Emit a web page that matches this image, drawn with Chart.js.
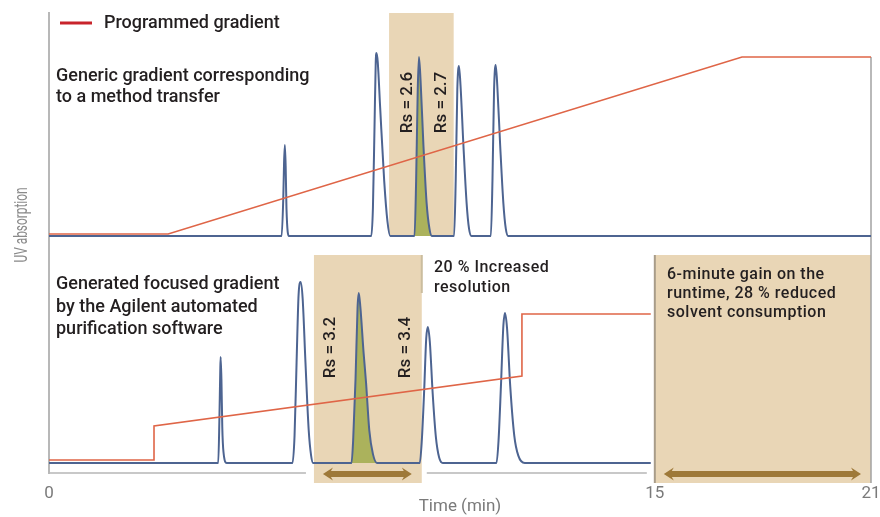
<!DOCTYPE html>
<html>
<head>
<meta charset="utf-8">
<script src="https://cdn.jsdelivr.net/npm/chart.js@4/dist/chart.umd.min.js"></script>
<style>
  html, body { margin: 0; padding: 0; background: #fff; }
</style>
</head>
<body>
<canvas id="chart" width="880" height="517"></canvas>
<script>
// ======= Data =======
const tickValues = [0, 15, 21];
const tickLabels = ['0', '15', '21'];

// Generic gradient run (top trace): time (min) / relative UV absorbance
const topTraceTime = [0,
  5.76, 5.80, 5.82, 5.84, 5.86, 5.88, 5.94,
  7.98, 8.02, 8.06, 8.09, 8.11, 8.14, 8.20, 8.30, 8.38, 8.45,
  9.05, 9.09, 9.13, 9.16, 9.20, 9.27, 9.35, 9.42, 9.48,
  10.03, 10.07, 10.11, 10.15, 10.19, 10.26, 10.34, 10.40, 10.46,
  10.94, 10.98, 11.02, 11.06, 11.10, 11.17, 11.25, 11.31, 11.37,
  21];
const topTraceAbs = [0,
  0, 20, 40, 49.7, 38, 15, 0,
  0, 15, 60, 95, 100, 95, 70, 30, 8, 0,
  0, 30, 80, 97.8, 85, 50, 18, 4, 0,
  0, 30, 80, 92.9, 82, 50, 18, 4, 0,
  0, 30, 80, 93.4, 82, 50, 18, 4, 0,
  0];

// Focused gradient run (bottom trace)
const botTraceTime = [0,
  4.19, 4.22, 4.24, 4.25, 4.27, 4.29, 4.32, 4.40,
  6.03, 6.08, 6.13, 6.18, 6.23, 6.28, 6.35, 6.43, 6.49, 6.54,
  7.49, 7.53, 7.59, 7.64, 7.67, 7.71, 7.79, 7.85, 7.93, 8.02, 8.12,
  9.18, 9.23, 9.29, 9.34, 9.38, 9.43, 9.50, 9.58, 9.66, 9.75,
  11.08, 11.13, 11.19, 11.25, 11.29, 11.34, 11.42, 11.52, 11.62, 11.78,
  14.9];
const botTraceAbs = [0,
  0, 25, 50, 57.9, 45, 20, 6, 0,
  0, 15, 55, 92, 98.9, 90, 55, 18, 4, 0,
  0, 12, 46, 85, 92.9, 85, 60, 44, 18, 5, 0,
  0, 12, 40, 68, 74.3, 66, 38, 14, 3, 0,
  0, 12, 42, 75, 82, 74, 42, 15, 4, 0,
  0];

// Programmed gradients (%B)
const topGradTime = [0, 2.95, 17.42, 21];
const topGradB = [5, 5, 95, 95];
const botGradTime = [0, 2.6, 2.6, 11.71, 11.71, 14.9];
const botGradB = [5, 5, 22.3, 47.7, 79.2, 79.2];

// Highlighted peak and shaded windows (min)
const topGreenPeak = [9.05, 9.48];
const botGreenPeak = [7.49, 8.12];
const topWindow = [8.42, 10.02];
const botWindow = [6.56, 9.23];
const gainWindow = [15, 21];

// ======= Style =======
const FONT = "Roboto, 'Liberation Sans', sans-serif";
const BLUE = '#4d6491';
const RED = '#df6547';
const GREEN = '#abb25c';
const TAN = '#e9d6b6';
const BROWN = '#9e7939';
const TEXT = '#231f20';
const GRAY = '#7a7a7a';

const AREA = { top: 13, bottom: 473 };
const BREAK_AT = 15, X_MAX = 21;
const BREAK_FRAC = 0.737; // share of the axis used by the first 15 min

// ======= Time axis with a change of scale at 15 min =======
function timeToFrac(t) {
    if (t <= BREAK_AT) return t / BREAK_AT * BREAK_FRAC;
    return BREAK_FRAC + (t - BREAK_AT) / (X_MAX - BREAK_AT) * (1 - BREAK_FRAC);
}
function fracToTime(f) {
    if (f <= BREAK_FRAC) return f / BREAK_FRAC * BREAK_AT;
    return BREAK_AT + (f - BREAK_FRAC) / (1 - BREAK_FRAC) * (X_MAX - BREAK_AT);
}
class SplitTimeScale extends Chart.LinearScale {
    getPixelForValue(value) {
        return this.getPixelForDecimal(timeToFrac(value));
    }
    getValueForPixel(pixel) {
        return fracToTime(this.getDecimalForPixel(pixel));
    }
}
SplitTimeScale.id = 'splitTime';
SplitTimeScale.defaults = Chart.LinearScale.defaults;
Chart.register(SplitTimeScale);

// each panel axis covers the whole plot, min/max put its baseline in place
function panelRange(baseValue, basePx, pxPerUnit) {
    return {
        min: baseValue - (AREA.bottom - basePx) / pxPerUnit,
        max: baseValue + (basePx - AREA.top) / pxPerUnit
    };
}
const uvTop = panelRange(0, 236, 1.83);
const uvBot = panelRange(0, 463, 1.83);
const gTop = panelRange(5, 234, 1.967);
const gBot = panelRange(5, 460, 1.967);

const pts = (ts, vs) => ts.map((t, i) => ({ x: t, y: vs[i] }));
const within = (arr, r) => arr.filter(p => p.x >= r[0] && p.x <= r[1]);
const topTrace = pts(topTraceTime, topTraceAbs);
const botTrace = pts(botTraceTime, botTraceAbs);

// ======= Drawing helpers =======
function drawArrow(ctx, xa, xb, y) {
    const head = 10, half = 6.5, shaft = 3;
    ctx.beginPath();
    ctx.moveTo(xa, y);
    ctx.lineTo(xa + head, y - half);
    ctx.lineTo(xa + head - 2, y - shaft);
    ctx.lineTo(xb - head + 2, y - shaft);
    ctx.lineTo(xb - head, y - half);
    ctx.lineTo(xb, y);
    ctx.lineTo(xb - head, y + half);
    ctx.lineTo(xb - head + 2, y + shaft);
    ctx.lineTo(xa + head - 2, y + shaft);
    ctx.lineTo(xa + head, y + half);
    ctx.closePath();
    ctx.fill();
}

function textLines(ctx, lines, x, y, step) {
    lines.forEach((s, i) => ctx.fillText(s, x, y + i * step));
}

// vertical text, optionally squeezed to a given length
function vText(ctx, s, x, y, len) {
    ctx.save();
    ctx.translate(x, y);
    ctx.rotate(-Math.PI / 2);
    if (len) ctx.scale(len / ctx.measureText(s).width, 1);
    ctx.textAlign = 'center';
    ctx.fillText(s, 0, 0);
    ctx.restore();
}

const overlay = {
    id: 'overlay',
    beforeDatasetsDraw(chart) {
        const { ctx, chartArea } = chart;
        const { x, yTop, gTop } = chart.scales;
        const boxTop = 255, boxBottom = 483;
        ctx.save();
        // shaded windows (white margin hides the axis line)
        const boxes = [
            [topWindow, chartArea.top, yTop.getPixelForValue(0)],
            [botWindow, boxTop, boxBottom],
            [gainWindow, boxTop, boxBottom]
        ];
        boxes.forEach(([w, y1, y2]) => {
            const x1 = x.getPixelForValue(w[0]), x2 = x.getPixelForValue(w[1]);
            ctx.fillStyle = '#fff';
            ctx.fillRect(x1 - 8, y1, x2 - x1 + 13, y2 - y1);
            ctx.fillStyle = TAN;
            ctx.fillRect(x1, y1, x2 - x1, y2 - y1);
        });
        // edges
        const xb = x.getPixelForValue(botWindow[1]);
        ctx.fillStyle = '#cbbd9e';
        ctx.fillRect(xb - 1, boxTop, 2, 38);
        ctx.fillStyle = '#a89c89';
        ctx.fillRect(x.getPixelForValue(gainWindow[0]) - 1, boxTop, 2, boxBottom - boxTop);
        ctx.fillStyle = '#a3a3a3';
        const xr = x.getPixelForValue(gainWindow[1]);
        const yr = gTop.getPixelForValue(95);
        ctx.fillRect(xr - 0.75, yr, 1.5, boxBottom - yr);
        ctx.restore();
    },
    afterDatasetsDraw(chart) {
        const { ctx } = chart;
        const { x } = chart.scales;
        ctx.save();
        // arrows
        ctx.fillStyle = BROWN;
        [botWindow, gainWindow].forEach(w => {
            drawArrow(ctx, x.getPixelForValue(w[0]) + 9, x.getPixelForValue(w[1]) - 10, 474);
        });

        // legend
        ctx.strokeStyle = '#c8242b';
        ctx.lineWidth = 3;
        ctx.beginPath();
        ctx.moveTo(60, 23);
        ctx.lineTo(92, 23);
        ctx.stroke();

        ctx.fillStyle = TEXT;
        ctx.textBaseline = 'alphabetic';
        ctx.textAlign = 'left';
        ctx.font = `500 18px ${FONT}`;
        ctx.fillText('Programmed gradient', 104, 28);
        textLines(ctx, ['Generic gradient corresponding', 'to a method transfer'], 56, 81, 21);
        textLines(ctx, ['Generated focused gradient', 'by the Agilent automated', 'purification software'], 56, 289, 22.5);

        ctx.font = `500 16px ${FONT}`;
        ctx.letterSpacing = '0.5px';
        textLines(ctx, ['20 % Increased', 'resolution'], 434, 272, 19.5);
        textLines(ctx, ['6-minute gain on the', 'runtime, 28 % reduced', 'solvent consumption'], 667, 279, 19);
        ctx.letterSpacing = '0px';

        ctx.font = `500 17px ${FONT}`;
        vText(ctx, 'Rs = 2.6', 411.5, 102.5);
        vText(ctx, 'Rs = 2.7', 445.5, 102.5);
        vText(ctx, 'Rs = 3.2', 335, 347.5);
        vText(ctx, 'Rs = 3.4', 410, 347.5);

        // y axis title
        ctx.fillStyle = '#8a8a8a';
        ctx.font = `18px ${FONT}`;
        vText(ctx, 'UV absorption', 26.5, 225, 75);
        ctx.restore();
    }
};

new Chart(document.getElementById('chart'), {
    type: 'line',
    data: {
        datasets: [
            { data: pts(topGradTime, topGradB), yAxisID: 'gTop', borderColor: RED, borderWidth: 1.6, order: 0 },
            { data: pts(botGradTime, botGradB), yAxisID: 'gBot', borderColor: RED, borderWidth: 1.6, order: 0 },
            { data: topTrace, yAxisID: 'yTop', borderColor: BLUE, borderWidth: 2, cubicInterpolationMode: 'monotone', order: 1 },
            { data: botTrace, yAxisID: 'yBot', borderColor: BLUE, borderWidth: 2, cubicInterpolationMode: 'monotone', order: 1 },
            { data: within(topTrace, topGreenPeak), yAxisID: 'yTop', borderWidth: 0, backgroundColor: GREEN,
              fill: { value: 0 }, cubicInterpolationMode: 'monotone', order: 2 },
            { data: within(botTrace, botGreenPeak), yAxisID: 'yBot', borderWidth: 0, backgroundColor: GREEN,
              fill: { value: 0 }, cubicInterpolationMode: 'monotone', order: 2 }
        ]
    },
    options: {
        responsive: false,
        animation: false,
        parsing: false,
        layout: { padding: { top: 13, right: 9, bottom: 0, left: 0 } },
        elements: { point: { radius: 0 } },
        plugins: { legend: { display: false }, tooltip: { enabled: false } },
        scales: {
            x: {
                type: 'splitTime', min: 0, max: X_MAX, bounds: 'data',
                afterBuildTicks: axis => { axis.ticks = tickValues.map(v => ({ value: v })); },
                afterFit: axis => { axis.height = 44; axis.paddingLeft = 0; axis.paddingRight = 0; },
                grid: { display: false, drawTicks: false },
                border: { color: '#c8c8c8', width: 2 },
                ticks: {
                    callback: (v, i) => tickLabels[i],
                    color: GRAY, font: { family: FONT, size: 17 },
                    padding: 11, maxRotation: 0, autoSkip: false
                },
                title: { display: true, text: 'Time (min)', color: GRAY, font: { family: FONT, size: 17 }, padding: 0 }
            },
            yTop: {
                position: 'left', min: uvTop.min, max: uvTop.max, bounds: 'data',
                afterFit: axis => { axis.width = 49; },
                ticks: { display: false }, grid: { display: false },
                border: { color: '#b8b8b8', width: 2 }
            },
            yBot: { display: false, min: uvBot.min, max: uvBot.max, bounds: 'data' },
            gTop: { display: false, min: gTop.min, max: gTop.max, bounds: 'data' },
            gBot: { display: false, min: gBot.min, max: gBot.max, bounds: 'data' }
        }
    },
    plugins: [overlay]
});
</script>
</body>
</html>
